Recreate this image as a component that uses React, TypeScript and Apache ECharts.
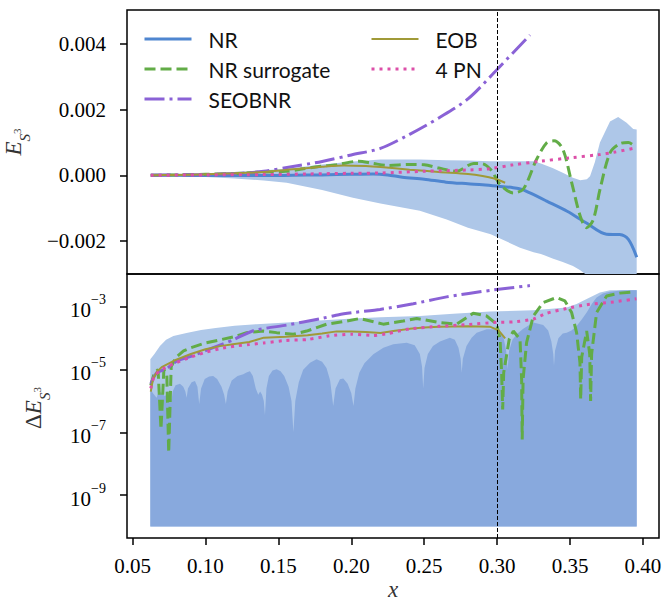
import React, { useEffect, useRef } from "react";
import * as echarts from "echarts";

type Pt = [number, number];

// ---- shared x axis ----
const X_MIN = 0.0462;
const X_MAX = 0.411;
const X_TICKS = [0.05, 0.1, 0.15, 0.2, 0.25, 0.3, 0.35, 0.4];
const X_MERGER = 0.2958;

// ---- upper panel: E_{S^3} ----
const E_MIN = -0.003014;
const E_MAX = 0.005044;
const E_TICKS = [-0.002, 0, 0.002, 0.004];

// NR band: [x, lower, upper]
const NR_BAND: [number, number, number][] = [
  [0.0625, 0, 0], [0.08, -0.00002, 0.00002], [0.1, -0.00005, 0.00006], [0.12, -0.0001, 0.0001],
  [0.14, -0.00016, 0.00015], [0.1557, -0.00023, 0.0002], [0.18, -0.00045, 0.00033], [0.2011, -0.00069, 0.00042],
  [0.22, -0.00086, 0.00048], [0.247, -0.00108, 0.00048], [0.2654, -0.00135, 0.00046], [0.28, -0.0016, 0.00045],
  [0.2956, -0.0018, 0.00043], [0.3157, -0.00221, 0.00043], [0.325, -0.00235, 0.00043], [0.33, -0.0024, 0.00036],
  [0.338, -0.00254, 0.00022], [0.345, -0.00265, 0.00008], [0.352, -0.00277, -0.00008], [0.357, -0.0029, -0.00015],
  [0.3615, -0.00305, -0.00012], [0.3637, -0.0031, -0.00003], [0.367, -0.0032, 0.0004], [0.3705, -0.0033, 0.001],
  [0.3774, -0.0035, 0.00164], [0.383, -0.0036, 0.00178], [0.3888, -0.0036, 0.0016], [0.3933, -0.0037, 0.00141],
  [0.3957, -0.0037, 0.0014],
];

const NR_TOP: Pt[] = [
  [0.0625, 0], [0.08, 0], [0.1, -0.00001], [0.12, -0.00001], [0.14, -0.00001], [0.16, 0], [0.18, 0.00001],
  [0.2, 0.00003], [0.215, 0.00004], [0.225, 0.00001], [0.235, -0.00006], [0.25, -0.00012], [0.265, -0.00021],
  [0.28, -0.00026], [0.29, -0.00029], [0.3, -0.00033], [0.311, -0.00038], [0.317, -0.00043], [0.3225, -0.00054],
  [0.334, -0.00079], [0.348, -0.0011], [0.361, -0.00145], [0.375, -0.0018], [0.384, -0.00181], [0.39, -0.00196],
  [0.3957, -0.0025],
];

const SURROGATE_TOP: Pt[] = [
  [0.0625, 0], [0.08, 0.00001], [0.1, 0.00003], [0.12, 0.00005], [0.14, 0.0001], [0.155, 0.00012], [0.165, 0.00018],
  [0.178, 0.00027], [0.19, 0.00032], [0.205, 0.00043], [0.215, 0.00036], [0.225, 0.0003], [0.24, 0.00033],
  [0.25, 0.00032], [0.26, 0.00022], [0.272, 0.00012], [0.284, 0.00036], [0.29, 0.00035], [0.296, 0.00015],
  [0.302, -0.00028], [0.311, -0.00054], [0.318, -0.00042], [0.327, 0.00048], [0.334, 0.00099], [0.339, 0.00105],
  [0.345, 0.0008], [0.351, -0.0002], [0.357, -0.00125], [0.3614, -0.0016], [0.366, -0.00135], [0.3705, -0.00044],
  [0.3774, 0.00068], [0.384, 0.00096], [0.39, 0.001], [0.3945, 0.00088],
];

const SEOBNR_TOP: Pt[] = [
  [0.0625, 0], [0.08, 0.00001], [0.1, 0.00002], [0.12, 0.00005], [0.14, 0.00012], [0.16, 0.00027], [0.18, 0.00042],
  [0.2, 0.00062], [0.22, 0.00082], [0.24, 0.00125], [0.26, 0.00175], [0.28, 0.00233], [0.3, 0.00323], [0.3225, 0.00428],
];

const EOB_TOP: Pt[] = [
  [0.0625, 0], [0.08, 0.00001], [0.1, 0.00003], [0.12, 0.00006], [0.14, 0.0001], [0.16, 0.00018], [0.18, 0.00026],
  [0.195, 0.0003], [0.21, 0.00028], [0.22, 0.00025], [0.24, 0.00017], [0.26, 0.0001], [0.28, 0.00004],
  [0.29, -0.00002], [0.298, -0.0001], [0.3055, -0.00023],
];

const PN4_TOP: Pt[] = [
  [0.0625, 0], [0.1, 0.00001], [0.14, 0.00002], [0.17, 0.00004], [0.2, 0.00006], [0.22, 0.00007], [0.25, 0.00012],
  [0.28, 0.00016], [0.295, 0.0002], [0.31, 0.00031], [0.33, 0.00043], [0.35, 0.00053], [0.37, 0.00063],
  [0.38, 0.0007], [0.3955, 0.00084],
];

// ---- lower panel: log10 of ΔE_{S^3} ----
const DE_MIN_LOG10 = -10.37;
const DE_MAX_LOG10 = -1.95;
const DE_TICK_EXPONENTS = [-9, -7, -5, -3];
const DE_FLOOR_LOG10 = -10;

const NR_ERR_BOUND_LOG10: Pt[] = [
  [0.0622, -4.67], [0.065, -4.5], [0.0688, -4.25], [0.073, -4.05], [0.078, -3.93], [0.087, -3.83], [0.097, -3.74],
  [0.107, -3.67], [0.12, -3.6], [0.135, -3.55], [0.1557, -3.5], [0.178, -3.43], [0.2013, -3.37], [0.22, -3.33],
  [0.2471, -3.29], [0.27, -3.22], [0.2951, -3.15], [0.3248, -3.11], [0.3477, -3.02], [0.3545, -2.91],
  [0.3614, -2.75], [0.3705, -2.54], [0.3774, -2.47], [0.3957, -2.46],
];

const NR_ERR_LOG10: Pt[] = [
  [0.0622, -5.6], [0.064, -5.75], [0.0665, -5.9], [0.068, -5.7], [0.0705, -5.75], [0.0722, -5.85], [0.0745, -5.72],
  [0.0762, -5.85], [0.0768, -5.98], [0.0775, -5.7], [0.0795, -5.5], [0.0825, -5.45], [0.0848, -5.55], [0.0862, -5.7],
  [0.0871, -5.9], [0.088, -5.6], [0.0905, -5.4], [0.0928, -5.36], [0.0945, -5.55], [0.0957, -6.1], [0.097, -5.6],
  [0.0995, -5.3], [0.1025, -5.22], [0.1053, -5.2], [0.108, -5.3], [0.111, -5.55], [0.1128, -5.8], [0.114, -6.1],
  [0.1152, -5.7], [0.118, -5.35], [0.122, -5.2], [0.1259, -5.15], [0.1285, -5.08], [0.1305, -5.05], [0.1325, -5.2],
  [0.1345, -5.6], [0.1362, -5.8], [0.1375, -5.7], [0.1388, -5.8], [0.14, -6.0], [0.1408, -6.45], [0.1418, -5.6],
  [0.1435, -5.2], [0.146, -5.03], [0.1488, -4.99], [0.1515, -5.05], [0.154, -5.2], [0.157, -5.55], [0.159, -6.0],
  [0.1603, -7.0], [0.1616, -6.0], [0.164, -5.4], [0.167, -5.0], [0.1717, -4.78], [0.1762, -4.67], [0.18, -4.75],
  [0.183, -4.95], [0.1855, -5.35], [0.1876, -6.16], [0.1892, -5.6], [0.1922, -5.31], [0.1945, -5.28], [0.1975, -5.45],
  [0.2, -5.75], [0.2015, -6.16], [0.2028, -5.6], [0.2055, -5.1], [0.209, -4.8], [0.2151, -4.51], [0.222, -4.3],
  [0.2288, -4.19], [0.238, -4.14], [0.2435, -4.22], [0.247, -4.5], [0.2485, -4.9], [0.2493, -5.6], [0.2502, -4.95],
  [0.2525, -4.5], [0.256, -4.25], [0.2608, -4.1], [0.2676, -3.98], [0.271, -4.05], [0.2735, -4.3], [0.275, -4.65],
  [0.2757, -5.1], [0.2765, -4.65], [0.279, -4.25], [0.2825, -3.98], [0.286, -3.82], [0.2928, -3.71], [0.2985, -3.71],
  [0.302, -3.8], [0.3045, -4.0], [0.3062, -4.4], [0.3072, -4.99], [0.3082, -4.4], [0.3105, -4.05], [0.314, -3.85],
  [0.3179, -3.7], [0.3248, -3.5], [0.3316, -3.58], [0.335, -3.75], [0.3372, -4.1], [0.3385, -4.5], [0.339, -4.88],
  [0.3397, -4.4], [0.342, -4.0], [0.345, -3.85], [0.3477, -3.82], [0.351, -3.75], [0.3545, -3.61], [0.358, -3.4],
  [0.3614, -3.18], [0.365, -2.9], [0.3682, -2.7], [0.3725, -2.57], [0.3774, -2.52], [0.385, -2.48], [0.3933, -2.47],
  [0.3957, -2.47],
];

const SURROGATE_ERR_LOG10: Pt[] = [
  [0.0625, -5.5], [0.065, -5.1], [0.0675, -5.0], [0.0695, -6.9], [0.0715, -5.0], [0.0735, -5.15], [0.0748, -7.65],
  [0.0765, -4.9], [0.08, -4.6], [0.085, -4.4], [0.09, -4.3], [0.1, -4.15], [0.11, -4.05], [0.12, -3.95],
  [0.1282, -3.82], [0.1396, -3.77], [0.1488, -3.82], [0.1602, -3.87], [0.1694, -3.77], [0.1831, -3.55],
  [0.1968, -3.45], [0.2059, -3.37], [0.2219, -3.55], [0.2356, -3.45], [0.2448, -3.37], [0.2608, -3.5],
  [0.2722, -3.55], [0.2836, -3.2], [0.2928, -3.29], [0.2997, -3.55], [0.302, -4.03], [0.3031, -5.1],
  [0.3038, -6.27], [0.3045, -5.1], [0.3083, -4.03], [0.3111, -3.77], [0.3157, -4.03], [0.3168, -5.31],
  [0.3172, -7.23], [0.3178, -5.31], [0.3202, -4.14], [0.3248, -3.29], [0.3316, -2.86], [0.3408, -2.7],
  [0.3465, -2.81], [0.3511, -3.18], [0.3545, -3.82], [0.3568, -4.78], [0.3573, -5.95], [0.358, -4.6],
  [0.3614, -3.77], [0.3635, -4.5], [0.3641, -6.0], [0.3648, -4.5], [0.3682, -3.18], [0.3751, -2.65],
  [0.3842, -2.56], [0.3945, -2.52],
];

const SEOBNR_ERR_LOG10: Pt[] = [
  [0.0625, -5.45], [0.0665, -5.1], [0.0734, -4.97], [0.0802, -4.73], [0.0916, -4.55], [0.1053, -4.3],
  [0.119, -4.05], [0.1333, -3.75], [0.1557, -3.58], [0.1785, -3.38], [0.1914, -3.25], [0.2013, -3.18],
  [0.2197, -3.08], [0.2425, -2.9], [0.2654, -2.68], [0.2956, -2.47], [0.3225, -2.32],
];

const EOB_ERR_LOG10: Pt[] = [
  [0.0625, -5.7], [0.064, -5.3], [0.067, -5.05], [0.07, -4.92], [0.075, -4.8], [0.08, -4.68], [0.09, -4.5],
  [0.1, -4.35], [0.11, -4.25], [0.12, -4.18], [0.13, -4.12], [0.14, -3.98], [0.155, -3.95], [0.17, -3.9],
  [0.18, -3.85], [0.19, -3.78], [0.2, -3.78], [0.21, -3.8], [0.22, -3.83], [0.23, -3.76], [0.24, -3.7],
  [0.25, -3.66], [0.26, -3.63], [0.28, -3.62], [0.295, -3.63], [0.301, -3.75], [0.3055, -4.0],
];

const PN4_ERR_LOG10: Pt[] = [
  [0.0625, -5.6], [0.065, -5.2], [0.07, -5.0], [0.075, -4.88], [0.08, -4.78], [0.09, -4.6], [0.1, -4.45],
  [0.11, -4.33], [0.12, -4.25], [0.13, -4.2], [0.14, -4.15], [0.155, -4.07], [0.17, -4.04], [0.185, -3.92],
  [0.2, -3.87], [0.215, -3.91], [0.225, -3.85], [0.24, -3.7], [0.26, -3.62], [0.28, -3.56], [0.3, -3.49],
  [0.311, -3.48], [0.3248, -3.39], [0.334, -3.2], [0.3477, -3.05], [0.3614, -2.93], [0.38, -2.84], [0.3955, -2.74],
];

// ---- styling ----
const SERIF = "Liberation Serif";
const SANS = "Lato";

const STYLES: Record<string, { color: string; width: number; dash: any }> = {
  NR: { color: "#4f86d0", width: 3, dash: "solid" },
  "NR surrogate": { color: "#62ac47", width: 3, dash: [11, 5] },
  SEOBNR: { color: "#8a62d6", width: 3, dash: [20, 5, 3, 5] },
  EOB: { color: "#a09a38", width: 2, dash: "solid" },
  "4 PN": { color: "#dc4fa8", width: 3, dash: [3, 5] },
};

const BAND_FILL = "#aec7e8";
const ERR_BOUND_FILL = "#afc8e9";
const ERR_FILL = "#88a9dd";

function polygonSeries(axis: number, upper: Pt[], lower: Pt[], fill: string) {
  return {
    type: "custom",
    xAxisIndex: axis,
    yAxisIndex: axis,
    silent: true,
    clip: true,
    z: 1,
    data: [upper[0]],
    renderItem: (params: any, api: any) => {
      const pts = upper.map((p) => api.coord(p)).concat(lower.slice().reverse().map((p) => api.coord(p)));
      const cs = params.coordSys;
      return {
        type: "polygon",
        shape: { points: pts },
        style: { fill },
        clipPath: { type: "rect", shape: { x: cs.x, y: cs.y, width: cs.width, height: cs.height } },
      };
    },
  };
}

function lineSeries(name: string, data: Pt[], axis: number, smooth: number | boolean) {
  const s = STYLES[name];
  return {
    name,
    type: "line",
    xAxisIndex: axis,
    yAxisIndex: axis,
    data,
    symbol: "none",
    showSymbol: false,
    smooth,
    silent: true,
    z: 3,
    lineStyle: { color: s.color, width: s.width, type: s.dash, cap: "butt" },
    itemStyle: { color: s.color },
    emphasis: { disabled: true },
  };
}

const mergerLine = {
  silent: true,
  symbol: ["none", "none"],
  label: { show: false },
  lineStyle: { color: "#000", width: 1, type: [4, 2] },
  data: [{ xAxis: X_MERGER }],
};

function legendBlock(names: string[], left: number) {
  return {
    data: names.map((n) => ({ name: n, lineStyle: { width: STYLES[n].width }, itemStyle: { opacity: 0 } })),
    orient: "vertical",
    left,
    top: 28,
    padding: 0,
    itemWidth: 47,
    itemHeight: 14,
    itemGap: 8,
    selectedMode: false,
    textStyle: { fontFamily: SANS, fontSize: 21, lineHeight: 22, color: "#111", padding: [0, 0, 0, 12] },
  };
}

const tickStyle = { color: "#000", width: 1.5 };

export default function App() {
  const ref = useRef<HTMLDivElement>(null);

  useEffect(() => {
    document.body.style.margin = "0";
    const chart = echarts.init(ref.current!, undefined, { renderer: "svg" });

    const bandUpper: Pt[] = NR_BAND.map((r) => [r[0], r[2]]);
    const bandLower: Pt[] = NR_BAND.map((r) => [r[0], r[1]]);
    const floorOf = (pts: Pt[]): Pt[] => pts.map((p) => [p[0], DE_FLOOR_LOG10]);

    const gridBase = { left: 127, width: 532, height: 264, show: true, borderColor: "#000", borderWidth: 1.5, containLabel: false, outerBoundsMode: "none" };

    const option: any = {
      animation: false,
      textStyle: { fontFamily: SERIF },
      grid: [
        { ...gridBase, top: 10 },
        { ...gridBase, top: 274 },
      ],
      xAxis: [
        {
          gridIndex: 0, type: "value", min: X_MIN, max: X_MAX,
          axisLine: { show: false }, axisTick: { show: false }, axisLabel: { show: false }, splitLine: { show: false },
        },
        {
          gridIndex: 1, type: "value", min: X_MIN, max: X_MAX,
          axisLine: { show: false }, splitLine: { show: false },
          axisTick: { show: true, customValues: X_TICKS, length: 7, lineStyle: tickStyle },
          axisLabel: {
            customValues: X_TICKS, formatter: (v: number) => v.toFixed(2),
            fontFamily: SERIF, fontSize: 21, color: "#000", margin: 17,
          },
        },
      ],
      yAxis: [
        {
          gridIndex: 0, type: "value", min: E_MIN, max: E_MAX,
          axisLine: { show: false }, splitLine: { show: false },
          axisTick: { show: true, customValues: E_TICKS, length: 7, lineStyle: tickStyle },
          axisLabel: {
            customValues: E_TICKS,
            formatter: (v: number) => (v < 0 ? "\u2212" + Math.abs(v).toFixed(3) : v.toFixed(3)),
            fontFamily: SERIF, fontSize: 21, color: "#000", margin: 21,
          },
        },
        {
          gridIndex: 1, type: "value", min: DE_MIN_LOG10, max: DE_MAX_LOG10,
          axisLine: { show: false }, splitLine: { show: false },
          axisTick: { show: true, customValues: DE_TICK_EXPONENTS, length: 7, lineStyle: tickStyle },
          axisLabel: {
            customValues: DE_TICK_EXPONENTS,
            formatter: (v: number) => `{b|10}{s|${v < 0 ? "\u2212" : ""}${Math.abs(v)}}`,
            margin: 21,
            fontFamily: SERIF,
            rich: {
              b: { fontFamily: SERIF, fontSize: 21, lineHeight: 28, verticalAlign: "bottom", color: "#000" },
              s: { fontFamily: SERIF, fontSize: 14, lineHeight: 14, verticalAlign: "top", color: "#000" },
            },
          },
        },
      ],
      legend: [legendBlock(["NR", "NR surrogate", "SEOBNR"], 143), legendBlock(["EOB", "4 PN"], 370)],
      graphic: [
        {
          type: "text", x: 17, y: 142, rotation: Math.PI / 2,
          style: {
            text: "{i|E}{s|S}{p|3}", align: "center", verticalAlign: "middle",
            rich: {
              i: { fontFamily: SERIF, fontStyle: "italic", fontSize: 23, lineHeight: 30, verticalAlign: "top", fill: "#333" },
              s: { fontFamily: SERIF, fontStyle: "italic", fontSize: 15, lineHeight: 15, verticalAlign: "bottom", fill: "#333" },
              p: { fontFamily: SERIF, fontSize: 11, lineHeight: 11, verticalAlign: "middle", fill: "#333" },
            },
          },
        },
        {
          type: "text", x: 37, y: 408, rotation: Math.PI / 2,
          style: {
            text: "{d|\u0394}{i|E}{s|S}{p|3}", align: "center", verticalAlign: "middle",
            rich: {
              d: { fontFamily: SERIF, fontSize: 23, lineHeight: 30, verticalAlign: "top", fill: "#333" },
              i: { fontFamily: SERIF, fontStyle: "italic", fontSize: 23, lineHeight: 30, verticalAlign: "top", fill: "#333" },
              s: { fontFamily: SERIF, fontStyle: "italic", fontSize: 15, lineHeight: 15, verticalAlign: "bottom", fill: "#333" },
              p: { fontFamily: SERIF, fontSize: 11, lineHeight: 11, verticalAlign: "middle", fill: "#333" },
            },
          },
        },
        {
          type: "text", x: 393, y: 589,
          style: { text: "x", fontFamily: SERIF, fontStyle: "italic", fontSize: 23, fill: "#333", align: "center", verticalAlign: "middle" },
        },
      ],
      series: [
        polygonSeries(0, bandUpper, bandLower, BAND_FILL),
        lineSeries("NR", NR_TOP, 0, 0.3),
        lineSeries("NR surrogate", SURROGATE_TOP, 0, 0.3),
        lineSeries("SEOBNR", SEOBNR_TOP, 0, 0.3),
        lineSeries("EOB", EOB_TOP, 0, 0.3),
        { ...lineSeries("4 PN", PN4_TOP, 0, 0.3), markLine: mergerLine },

        polygonSeries(1, NR_ERR_BOUND_LOG10, floorOf(NR_ERR_BOUND_LOG10), ERR_BOUND_FILL),
        polygonSeries(1, NR_ERR_LOG10, floorOf(NR_ERR_LOG10), ERR_FILL),
        lineSeries("NR surrogate", SURROGATE_ERR_LOG10, 1, false),
        lineSeries("SEOBNR", SEOBNR_ERR_LOG10, 1, 0.2),
        lineSeries("EOB", EOB_ERR_LOG10, 1, false),
        { ...lineSeries("4 PN", PN4_ERR_LOG10, 1, 0.2), markLine: mergerLine },
      ],
    };

    chart.setOption(option);
    return () => chart.dispose();
  }, []);

  return <div ref={ref} style={{ width: 662, height: 601 }} />;
}
